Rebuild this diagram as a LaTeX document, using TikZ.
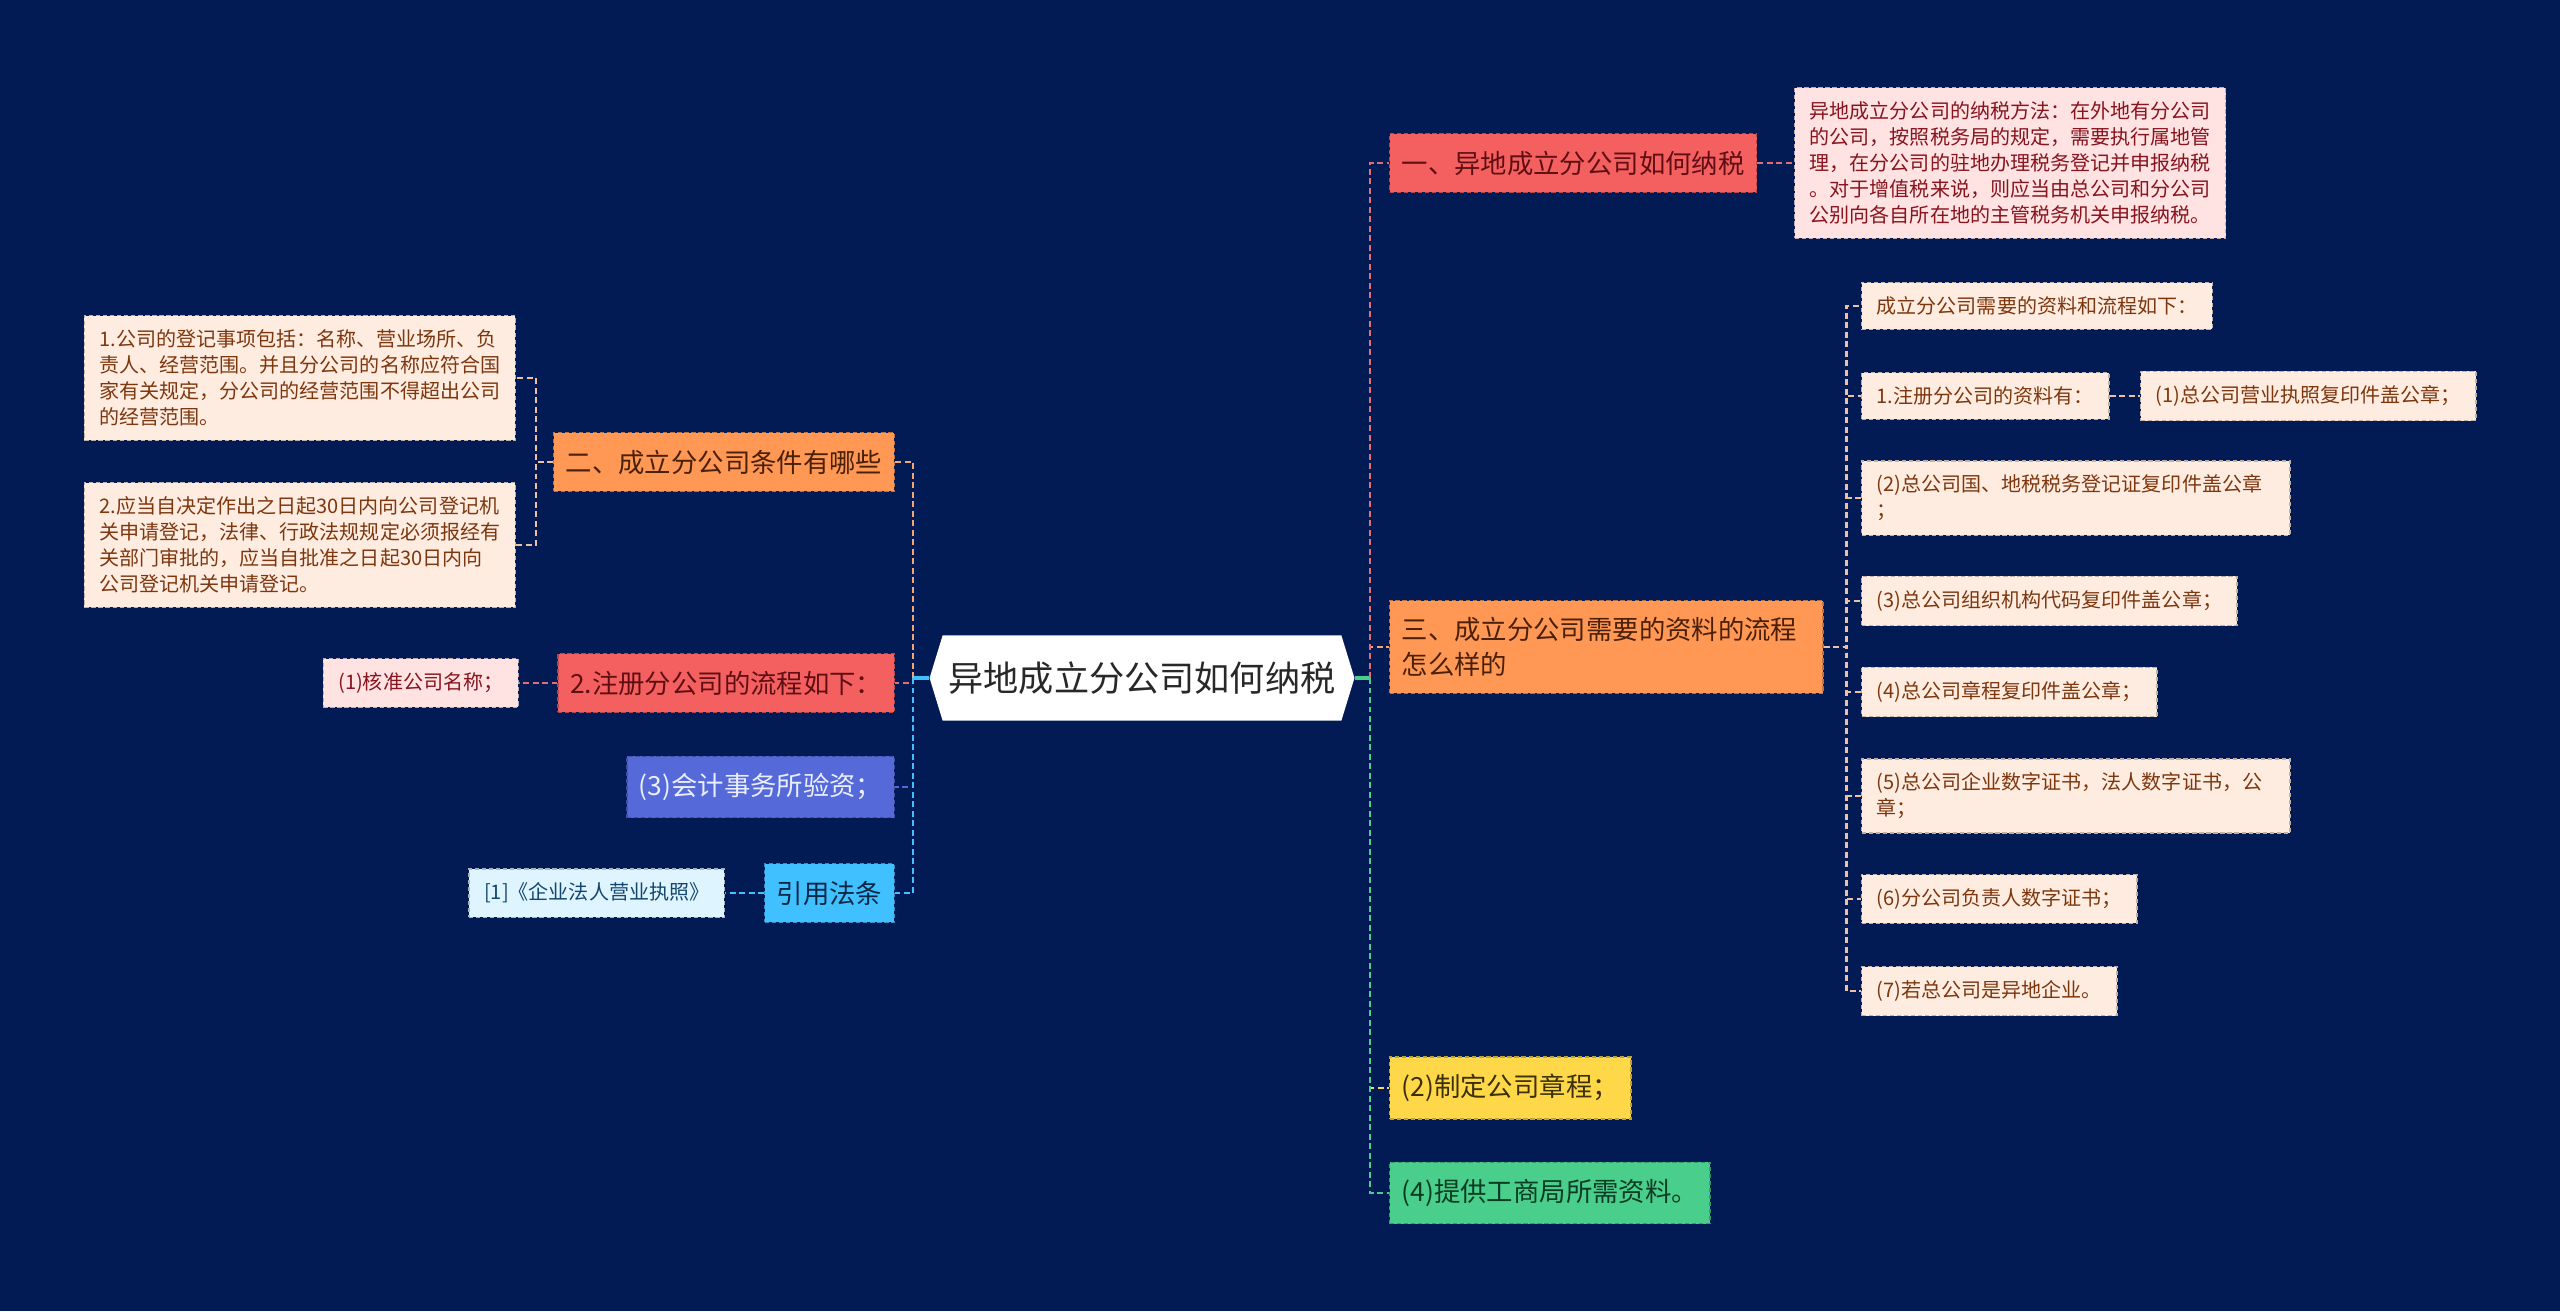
\documentclass[tikz,border=0pt]{standalone}
\usepackage{fontspec}
\usepackage{tikz}
\usetikzlibrary{shapes.symbols}
\newfontfamily\cjk{Noto Sans CJK SC}

\definecolor{bg}{RGB}{3,27,84}
\definecolor{redbox}{RGB}{244,96,96}
\definecolor{orangebox}{RGB}{255,152,84}
\definecolor{yellowbox}{RGB}{255,216,74}
\definecolor{greenbox}{RGB}{74,206,140}
\definecolor{purplebox}{RGB}{85,106,216}
\definecolor{bluebox}{RGB}{64,192,255}
\definecolor{peach}{RGB}{255,236,224}
\definecolor{pinkleaf}{RGB}{255,226,226}
\definecolor{cyanleaf}{RGB}{222,244,255}
\definecolor{redtext}{RGB}{95,15,20}
\definecolor{browntext}{RGB}{75,32,8}
\definecolor{leaftext}{RGB}{125,55,15}
\definecolor{pinktext}{RGB}{135,20,30}
\definecolor{cyantext}{RGB}{20,70,110}
\definecolor{redline}{RGB}{224,110,116}
\definecolor{orangeline}{RGB}{245,165,115}
\definecolor{peachline}{RGB}{240,190,160}

\tikzset{
    box/.style={rectangle, draw=#1!75!black, fill=#1, dash pattern=on 1.2pt off 0.8pt, line width=0.4pt, align=left},
    topic/.style={box=#1, inner xsep=0.12cm, inner ysep=0.17cm, font=\cjk\fontsize{7.5pt}{9.8pt}\selectfont},
    leaf/.style={box=#1, inner xsep=0.15cm, inner ysep=0.14cm, font=\cjk\fontsize{5.7pt}{7.4pt}\selectfont},
    link/.style={draw=#1, line width=0.8pt, dash pattern=on 1.7pt off 1pt},
    stub/.style={draw=#1, line width=0.9pt}
}

\begin{document}
\begin{tikzpicture}[x=0.01cm, y=-0.01cm]
    % Background
    \fill[bg] (0,0) rectangle (2560,1311);
    \useasboundingbox (0,0) rectangle (2560,1311);

    % Central topic
    \node[signal, signal to=west and east, signal pointer angle=146, fill=white,
          inner xsep=0.06cm, minimum height=0.85cm, text={rgb,255:red,40;green,40;blue,40},
          font=\cjk\fontsize{10pt}{12pt}\selectfont] (root) at (1142,678) {异地成立分公司如何纳税};
    \coordinate (rj) at (1370,678);
    \coordinate (lj) at (913,678);

    % Right branches
    \node[topic=redbox, text=redtext, anchor=west] (t1) at (1389,163) {一、异地成立分公司如何纳税};
    \node[leaf=pinkleaf, text=pinktext, anchor=west] (t1a) at (1794,163)
        {异地成立分公司的纳税方法：在外地有分公司\\的公司，按照税务局的规定，需要执行属地管\\理，在分公司的驻地办理税务登记并申报纳税\\。对于增值税来说，则应当由总公司和分公司\\公别向各自所在地的主管税务机关申报纳税。};
    \node[topic=orangebox, text=browntext, anchor=west, text width=4.09cm] (t3) at (1389,647) {三、成立分公司需要的资料的流程\\怎么样的};
    \node[topic=yellowbox, text={rgb,255:red,60;green,48;blue,8}, anchor=west] (t5) at (1389,1088) {(2)制定公司章程；};
    \node[topic=greenbox, text={rgb,255:red,10;green,60;blue,35}, anchor=west] (t6) at (1389,1193) {(4)提供工商局所需资料。};

    % Leaves of t3
    \node[leaf=peach, text=leaftext, anchor=west] (c1) at (1861,306) {成立分公司需要的资料和流程如下：};
    \node[leaf=peach, text=leaftext, anchor=west] (c2) at (1861,396) {1.注册分公司的资料有：};
    \node[leaf=peach, text=leaftext, anchor=west] (c2b) at (2140,396) {(1)总公司营业执照复印件盖公章；};
    \node[leaf=peach, text=leaftext, anchor=west, text width=3.98cm] (c3) at (1861,498) {(2)总公司国、地税税务登记证复印件盖公章\\；};
    \node[leaf=peach, text=leaftext, anchor=west] (c4) at (1861,601) {(3)总公司组织机构代码复印件盖公章；};
    \node[leaf=peach, text=leaftext, anchor=west] (c5) at (1861,692) {(4)总公司章程复印件盖公章；};
    \node[leaf=peach, text=leaftext, anchor=west, text width=3.98cm] (c6) at (1861,796) {(5)总公司企业数字证书，法人数字证书，公\\章；};
    \node[leaf=peach, text=leaftext, anchor=west] (c7) at (1861,899) {(6)分公司负责人数字证书；};
    \node[leaf=peach, text=leaftext, anchor=west] (c8) at (1861,991) {(7)若总公司是异地企业。};

    % Left branches
    \node[topic=orangebox, text=browntext, anchor=east] (s2) at (895,462) {二、成立分公司条件有哪些};
    \node[leaf=peach, text=leaftext, anchor=east] (d1) at (516,378)
        {1.公司的登记事项包括：名称、营业场所、负\\责人、经营范围。并且分公司的名称应符合国\\家有关规定，分公司的经营范围不得超出公司\\的经营范围。};
    \node[leaf=peach, text=leaftext, anchor=east] (d2) at (516,545)
        {2.应当自决定作出之日起30日内向公司登记机\\关申请登记，法律、行政法规规定必须报经有\\关部门审批的，应当自批准之日起30日内向\\公司登记机关申请登记。};
    \node[topic=redbox, text=redtext, anchor=east] (s4) at (895,683) {2.注册分公司的流程如下：};
    \node[leaf=pinkleaf, text=pinktext, anchor=east] (s4a) at (519,683) {(1)核准公司名称；};
    \node[topic=purplebox, text={rgb,255:red,235;green,238;blue,255}, anchor=east] (s6) at (895,787) {(3)会计事务所验资；};
    \node[topic=bluebox, text={rgb,255:red,10;green,40;blue,70}, anchor=east] (s7) at (895,893) {引用法条};
    \node[leaf=cyanleaf, text=cyantext, anchor=east] (s7a) at (725,893) {[1]《企业法人营业执照》};

    % Connectors on the right
    \draw[stub=greenbox] (root.east) -- (rj);
    \draw[link=orangeline] (rj) |- (t3.west);
    \draw[link=redline] (rj) |- (t1.west);
    \draw[link=yellowbox] (rj) |- (t5.west);
    \draw[link=greenbox] (rj) |- (t6.west);
    \draw[link=redline] (t1.east) -- (t1a.west);
    \foreach \n in {c1,c2,c3,c4,c5,c6,c7,c8}
        \draw[link=peachline] (t3.east) -- ++(23,0) |- (\n.west);
    \draw[link=peachline] (c2.east) -- (c2b.west);

    % Connectors on the left
    \draw[stub=bluebox] (root.west) -- (lj);
    \draw[link=orangeline] (lj) |- (s2.east);
    \draw[link=redline] (lj) |- (s4.east);
    \draw[link=purplebox] (lj) |- (s6.east);
    \draw[link=bluebox] (lj) |- (s7.east);
    \draw[link=peachline] (s2.west) -- ++(-17,0) |- (d1.east);
    \draw[link=peachline] (s2.west) -- ++(-17,0) |- (d2.east);
    \draw[link=redline] (s4.west) -- (s4a.east);
    \draw[link=bluebox] (s7.west) -- (s7a.east);
\end{tikzpicture}
\end{document}
